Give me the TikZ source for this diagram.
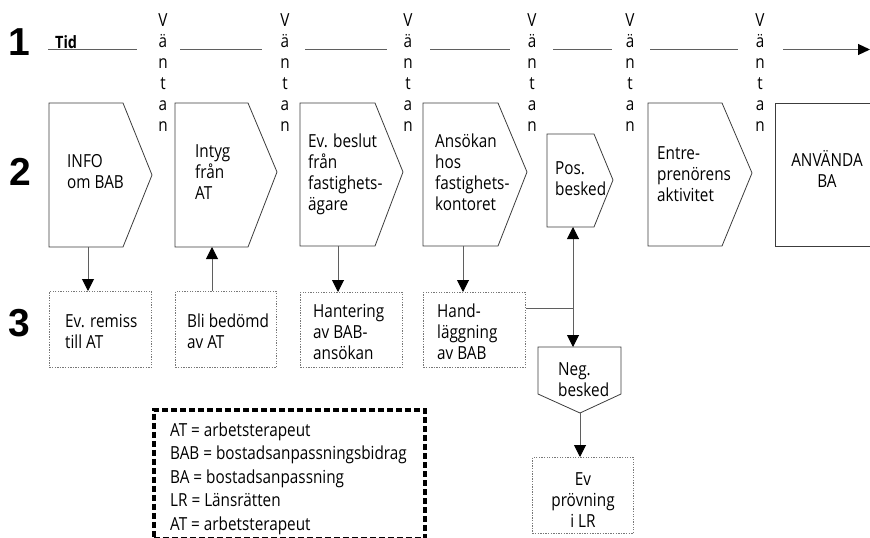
\documentclass[tikz,border=0pt]{standalone}
\usepackage{fontspec}
\setmainfont[FakeStretch=0.85]{Open Sans}
\newfontfamily\numfont{Liberation Sans}
\usetikzlibrary{arrows.meta}
\definecolor{outl}{RGB}{60,60,60}
\definecolor{connc}{RGB}{95,95,95}
\definecolor{dotc}{RGB}{120,120,120}
\begin{document}
\begin{tikzpicture}[x=1pt,y=-1pt,
  shp/.style={draw=outl, line width=0.8pt, line join=miter},
  dbox/.style={draw=dotc, line width=0.9pt, dash pattern=on 1.3pt off 1.3pt, rectangle, inner sep=0pt, anchor=north west},
  conn/.style={draw=connc, line width=1pt, -{Triangle[length=12pt,width=12pt,color=black]}},
  tl/.style={draw=connc, line width=1.2pt},
  txt/.style={font=\fontsize{18}{21}\selectfont, align=left, anchor=north west, inner sep=0pt},
  ctxt/.style={font=\fontsize{18}{21}\selectfont, align=center, anchor=north, inner sep=0pt},
  num/.style={font=\numfont\fontsize{39}{39}\selectfont\bfseries, inner sep=0pt, anchor=center},
  legbox/.style={draw=black, line width=3.5pt, dash pattern=on 6pt off 3pt, rectangle, inner sep=0pt, anchor=north west}
]
\useasboundingbox (0,0) rectangle (870,538);

% row numbers
\node[num] (n1) at (19.5,42) {1};
\node[num] (n2) at (20,171.5) {2};
\node[num] (n3) at (19.5,323) {3};

% time line
\node[font=\fontsize{17}{17}\selectfont\bfseries, anchor=north west, inner sep=0pt] (tid) at (55,35) {Tid};
\draw[tl] (48,49.5) -- (137,49.5);
\draw[tl] (180,49.5) -- (262,49.5);
\draw[tl] (305,49.5) -- (387,49.5);
\draw[tl] (430,49.5) -- (510,49.5);
\draw[tl] (553,49.5) -- (612,49.5);
\draw[tl] (650,49.5) -- (738,49.5);
\coordinate (tstart) at (783,49.5);
\coordinate (tend) at (870,49.5);
\draw[tl, -{Triangle[length=12pt,width=11pt,color=black]}] (tstart) -- (tend);

\foreach \x/\n in {163/v1,285/v2,408/v3,532/v4,630/v5,760/v6}
  \node[ctxt] (\n) at (\x,13.5) {V\\ä\\n\\t\\a\\n};

% row 2 shapes
\draw[shp] (49,103) -- (123,103) -- (152,175) -- (123,247) -- (49,247) -- cycle;
\draw[shp] (175,103) -- (248,103) -- (277,172) -- (248,247) -- (175,247) -- cycle;
\draw[shp] (300,103) -- (375,103) -- (403,172) -- (375,246) -- (300,246) -- cycle;
\draw[shp] (423,103) -- (498,103) -- (527,172) -- (498,246) -- (423,246) -- cycle;
\draw[shp] (547,134) -- (594,134) -- (613,180) -- (594,227) -- (547,227) -- cycle;
\draw[shp] (648,103) -- (722,103) -- (752,173) -- (722,246) -- (648,246) -- cycle;
\draw[shp] (870,103) -- (775,103) -- (775,246) -- (870,246);

\node[txt] (t1) at (67,154) {INFO\\om BAB};
\node[txt] (t2) at (195,144) {Intyg\\från\\AT};
\node[txt] (t3) at (308,134) {Ev. beslut\\från\\fastighets-\\ägare};
\node[txt] (t4) at (435,134) {Ansökan\\hos\\fastighets-\\kontoret};
\node[txt] (t5) at (555,161) {Pos.\\besked};
\node[txt] (t6) at (657,146) {Entre-\\prenörens\\aktivitet};
\node[ctxt] (t7) at (827,150.5) {ANVÄNDA\\BA};

\coordinate (s1b) at (88,247);
\coordinate (s2b) at (212,247);
\coordinate (s3b) at (338,246);
\coordinate (s4b) at (463,246);
\coordinate (s5b) at (573,227);

% row 3 dotted boxes
\node[dbox, minimum width=102pt, minimum height=76pt] (ra) at (49,291) {};
\node[dbox, minimum width=101pt, minimum height=76pt] (rb) at (175,291) {};
\node[dbox, minimum width=102pt, minimum height=75pt] (rc) at (300,292) {};
\node[dbox, minimum width=102pt, minimum height=75pt] (rd) at (423,292) {};
\node[dbox, minimum width=101pt, minimum height=76pt] (re) at (532,457) {};

\node[txt] (ta) at (65,314) {Ev. remiss\\till AT};
\node[txt] (tb) at (187,314) {Bli bedömd\\av AT};
\node[txt] (tc) at (313,304) {Hantering\\av BAB-\\ansökan};
\node[txt] (td) at (437,304) {Hand-\\läggning\\av BAB};
\node[ctxt] (te) at (583,472) {Ev\\prövning\\i LR};

% negative decision
\draw[shp] (538,347) -- (621,347) -- (621,394) -- (580,413) -- (538,394) -- cycle;
\node[txt] (tn) at (558,362) {Neg.\\besked};
\coordinate (negtop) at (573,347);
\coordinate (negpt) at (580,413);

% connectors
\draw[conn] (s1b) -- (s1b |- ra.north);
\draw[conn] (s2b |- rb.north) -- (s2b);
\draw[conn] (s3b) -- (s3b |- rc.north);
\draw[conn] (s4b) -- (s4b |- rd.north);
\draw[draw=connc, line width=1pt, {Triangle[length=12pt,width=12pt,color=black]}-{Triangle[length=12pt,width=12pt,color=black]}] (s5b) -- (negtop);
\draw[draw=connc, line width=1pt] (rd.east |- 0,308) -- (573,308);
\draw[conn] (negpt) -- (negpt |- re.north);

% legend
\node[legbox, minimum width=271pt, minimum height=129pt] (legb) at (152,408) {};
\node[txt, font=\fontsize{18}{23.5}\selectfont] (leg) at (170,422.5) {AT = arbetsterapeut\\BAB = bostadsanpassningsbidrag\\BA = bostadsanpassning\\LR = Länsrätten\\AT = arbetsterapeut};
\end{tikzpicture}
\end{document}
